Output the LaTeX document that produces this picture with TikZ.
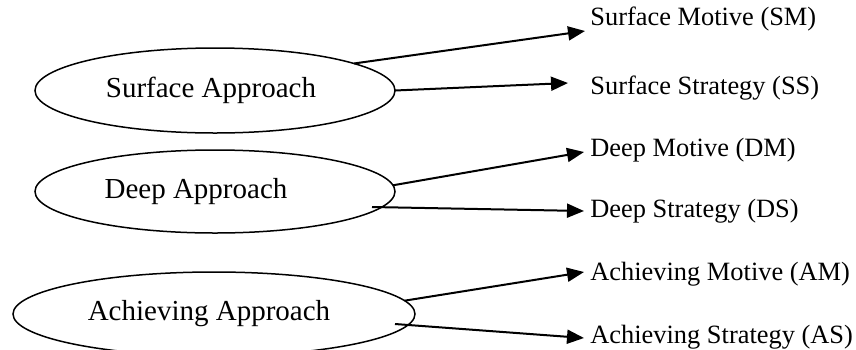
\documentclass[tikz,border=0pt]{standalone}
\usepackage{fontspec}
\setmainfont{Liberation Serif}
\usetikzlibrary{shapes.geometric}
\usetikzlibrary{arrows.meta}
\begin{document}
\begin{tikzpicture}[x=0.5pt,y=-0.5pt,>={Triangle[length=8.5pt,width=7pt]}]
%
\tikzstyle{apl}=[draw,shape=ellipse,line width=0.75pt,inner sep=0pt,outer sep=0pt,font=\fontsize{14.5}{17}\selectfont]
\tikzstyle{fcl}=[anchor=base west,inner sep=0pt,font=\fontsize{13.2}{16}\selectfont]
\tikzstyle{arl}=[->,line width=1pt]
%
\useasboundingbox (0,0) rectangle (856,349);
%
\node[apl,minimum width=180pt,minimum height=42.5pt](sa) at (215,90.5){Surface Approach\hspace*{4pt}};
\node[apl,minimum width=180pt,minimum height=41.5pt](da) at (215,191.5){Deep Approach\hspace*{19pt}};
\node[apl,minimum width=201pt,minimum height=42pt](aa) at (214,314){Achieving Approach\hspace*{5pt}};
%
\node[fcl](sm) at (590,25){Surface Motive (SM)};
\node[fcl](ss) at (590,94){Surface Strategy (SS)};
\node[fcl](dm) at (590,156){Deep Motive (DM)};
\node[fcl](ds) at (590,217){Deep Strategy (DS)};
\node[fcl](am) at (590,280){Achieving Motive (AM)};
\node[fcl](as) at (590,343){Achieving Strategy (AS)};
%
\draw[arl] (sa.11.4) -- ([shift={(-5,6)}]sm.base west);
\draw[arl] (sa.east) -- ([shift={(-22,-11)}]ss.base west);
\draw[arl] (da.2.4) -- ([shift={(-6,-4)}]dm.base west);
\draw[arl] ([shift={(157,15.5)}]da.center) -- ([shift={(-6,-6)}]ds.base west);
\draw[arl] (aa.4.5) -- ([shift={(-6,-8)}]am.base west);
\draw[arl] ([shift={(181,10)}]aa.center) -- ([shift={(-6,-5)}]as.base west);
\end{tikzpicture}
\end{document}
